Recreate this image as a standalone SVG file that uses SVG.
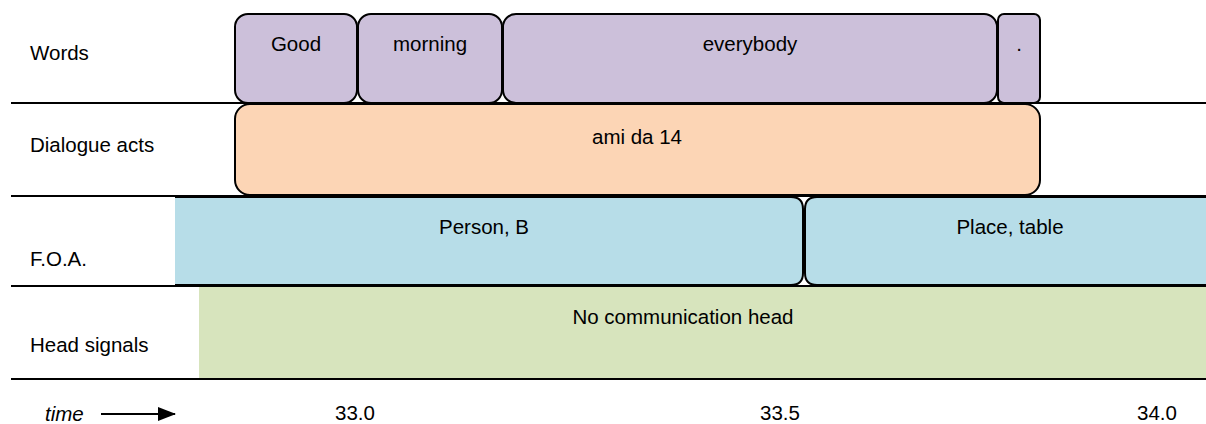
<svg xmlns="http://www.w3.org/2000/svg" width="1206" height="424" viewBox="0 0 1206 424">
<style>
text{font-family:"Liberation Sans",Arial,sans-serif;font-size:20.5px;fill:#000}
.c{text-anchor:middle}
.w{fill:#ccc0da;stroke:#000;stroke-width:2}
.d{fill:#fcd5b5;stroke:#000;stroke-width:2}
.f{fill:#b7dde8;stroke:#000;stroke-width:2}
.h{fill:#d7e4bd}
.rule{stroke:#000;stroke-width:2}
</style>
<defs>
<marker id="ah" markerWidth="18" markerHeight="14" refX="17" refY="7" orient="auto" markerUnits="userSpaceOnUse">
<path d="M0,0 L18,7 L0,14 Z" fill="#000"/>
</marker>
</defs>
<g id="labels">
<text x="30" y="60">Words</text>
<text x="30" y="152">Dialogue acts</text>
<text x="30" y="266">F.O.A.</text>
<text x="30" y="352">Head signals</text>
</g>
<g id="head-signals">
<rect class="h" x="199" y="286" width="1010" height="93"/>
<text class="c" x="683" y="324">No communication head</text>
</g>
<g id="foa-person">
<path class="f" d="M175,197 H791 Q803,197 803,209 V273 Q803,285 791,285 H175"/>
<text class="c" x="484" y="234">Person, B</text>
</g>
<g id="foa-place">
<path class="f" d="M1210,197 H817 Q805,197 805,209 V273 Q805,285 817,285 H1210"/>
<text class="c" x="1010" y="234">Place, table</text>
</g>
<g id="rules">
<line class="rule" x1="11" y1="103" x2="1206" y2="103"/>
<line class="rule" x1="11" y1="196" x2="1206" y2="196"/>
<line class="rule" x1="11" y1="286" x2="1206" y2="286"/>
<line class="rule" x1="11" y1="379" x2="1206" y2="379"/>
</g>
<g id="dialogue-act">
<rect class="d" x="235" y="104" width="805" height="91" rx="15"/>
<text class="c" x="637" y="144">ami da 14</text>
</g>
<g id="word-good">
<rect class="w" x="235" y="14" width="122" height="89" rx="13"/>
<text class="c" x="296" y="51">Good</text>
</g>
<g id="word-morning">
<rect class="w" x="358" y="14" width="144" height="89" rx="13"/>
<text class="c" x="430" y="51">morning</text>
</g>
<g id="word-everybody">
<rect class="w" x="503" y="14" width="494" height="89" rx="13"/>
<text class="c" x="750" y="51">everybody</text>
</g>
<g id="word-period">
<rect class="w" x="998" y="14" width="42" height="89" rx="6"/>
<text class="c" x="1019" y="51">.</text>
</g>
<g id="connectors">
<line x1="101" y1="414" x2="175" y2="414" stroke="#000" stroke-width="2" marker-end="url(#ah)"/>
</g>
<g id="axis">
<text x="45" y="421" font-style="italic">time</text>
<text class="c" x="355" y="420">33.0</text>
<text class="c" x="780" y="420">33.5</text>
<text class="c" x="1157" y="420">34.0</text>
</g>
</svg>
